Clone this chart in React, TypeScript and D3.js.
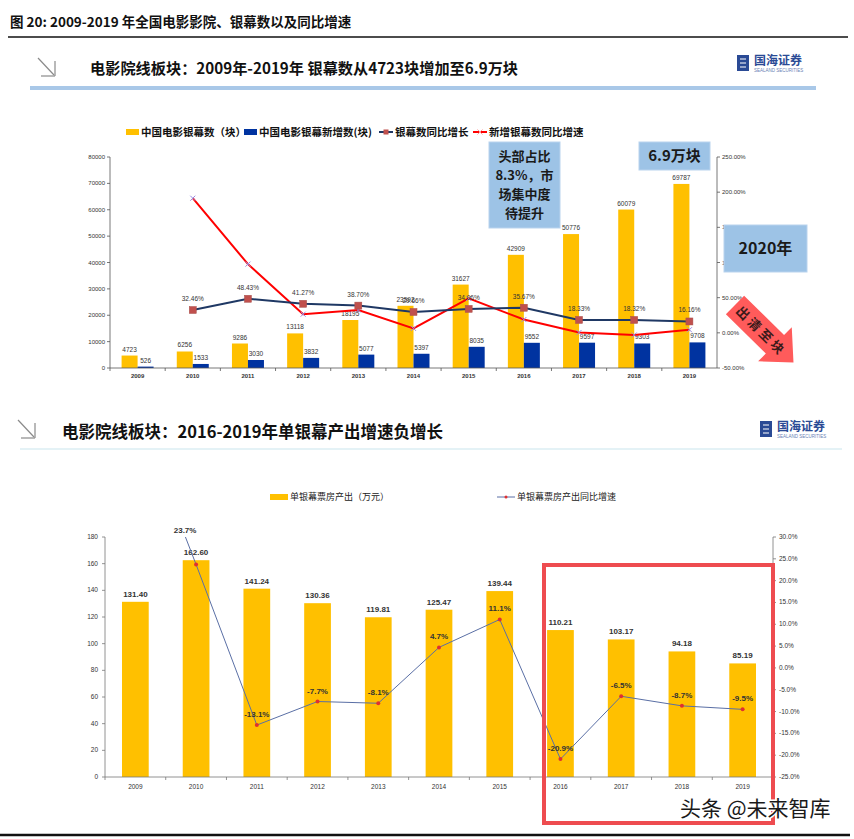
import React from 'react';
import * as d3 from 'd3';

// screens 2009-2019
const years = ['2009', '2010', '2011', '2012', '2013', '2014', '2015', '2016', '2017', '2018', '2019'];
const screens = [4723, 6256, 9286, 13118, 18195, 23592, 31627, 42909, 50776, 60079, 69787];
const newScreens = [526, 1533, 3030, 3832, 5077, 5397, 8035, 9552, 9597, 9303, 9708];
const screenGrowth = [null, 32.46, 48.43, 41.27, 38.7, 29.66, 34.06, 35.67, 18.33, 18.32, 16.16];
const newScreenGrowth = [null, 191.4, 97.7, 26.5, 32.5, 6.3, 48.9, 18.9, 0.5, -3.1, 4.4];
const topLeftTicks = [0, 10000, 20000, 30000, 40000, 50000, 60000, 70000, 80000];
const topRightTicks = [-50, 0, 50, 100, 150, 200, 250];

// box office per screen (10k yuan)
const perScreen = [131.4, 162.6, 141.24, 130.36, 119.81, 125.47, 139.44, 110.21, 103.17, 94.18, 85.19];
const perScreenGrowth = [59.6, 23.7, -13.1, -7.7, -8.1, 4.7, 11.1, -20.9, -6.5, -8.7, -9.5];
const botLeftTicks = [0, 20, 40, 60, 80, 100, 120, 140, 160, 180];
const botRightTicks = [-25, -20, -15, -10, -5, 0, 5, 10, 15, 20, 25, 30];

const calloutLines = ['头部占比', '8.3%，市', '场集中度', '待提升'];

const YELLOW = '#FFC000';
const NAVY_BAR = '#0033A0';
const NAVY_LINE = '#1F3864';
const MARK = '#C0504D';
const RED = '#FF0000';
const CJK = '"Noto Sans CJK SC", "Liberation Sans", sans-serif';
const NUM = '"Liberation Sans", Arial, sans-serif';

function Logo({x, y}: {x: number; y: number}) {
  return (
    <g transform={`translate(${x},${y})`}>
      <rect x={0} y={0} width={12} height={16} fill="#2a4a95" />
      <path d="M3,4 H9 M3,8 H9 M3,12 H9" stroke="#fff" strokeWidth={1.2} />
      <text x={17} y={10} fontFamily={CJK} fontWeight={700} fontSize={12} fill="#2a4a95">国海证券</text>
      <text x={17} y={17} fontFamily={NUM} fontSize={4.5} fill="#6a7fb5">SEALAND SECURITIES</text>
    </g>
  );
}

function TitleMark({x, y}: {x: number; y: number}) {
  return (
    <g stroke="#8a8a8a" strokeWidth={1.2} fill="none">
      <line x1={x} y1={y} x2={x + 16} y2={y + 17} />
      <line x1={x + 17} y1={y + 3} x2={x + 17} y2={y + 18} />
      <line x1={x + 3} y1={y + 18} x2={x + 17} y2={y + 18} />
    </g>
  );
}

function TopChart() {
  const x = d3.scaleBand().domain(years).range([110, 717]);
  const yL = d3.scaleLinear().domain([0, 80000]).range([368, 157]);
  const yR = d3.scaleLinear().domain([-50, 250]).range([368, 157]);
  const bw = 16;
  const cx = (yr: string) => (x(yr) as number) + x.bandwidth() / 2;

  const growthPts = years.map((yr, i) => ({yr, v: screenGrowth[i]})).filter((d) => d.v !== null) as {yr: string; v: number}[];
  const newPts = years.map((yr, i) => ({yr, v: newScreenGrowth[i]})).filter((d) => d.v !== null) as {yr: string; v: number}[];
  const line = d3.line<{yr: string; v: number}>().x((d) => cx(d.yr)).y((d) => yR(d.v));

  return (
    <g>
      {/* legend */}
      <g fontFamily={CJK} fontWeight={700} fontSize={10.5} fill="#111">
        <rect x={126} y={129} width={13} height={6} fill={YELLOW} />
        <text x={141} y={136}>中国电影银幕数（块）</text>
        <rect x={244} y={129} width={13} height={6} fill={NAVY_BAR} />
        <text x={259} y={136}>中国电影银幕新增数(块)</text>
        <line x1={379} y1={132} x2={393} y2={132} stroke={NAVY_LINE} strokeWidth={2} />
        <rect x={383.5} y={129.5} width={5} height={5} fill={MARK} />
        <text x={395} y={136}>银幕数同比增长</text>
        <line x1={473} y1={132} x2={487} y2={132} stroke={RED} strokeWidth={2} />
        <path d="M477.5,129.5 L482.5,134.5 M482.5,129.5 L477.5,134.5" stroke="#ff9a9a" strokeWidth={1} />
        <text x={489} y={136}>新增银幕数同比增速</text>
      </g>

      {/* bars */}
      {years.map((yr, i) => (
        <g key={yr}>
          <rect x={cx(yr) - bw} y={yL(screens[i])} width={bw} height={368 - yL(screens[i])} fill={YELLOW} />
          <rect x={cx(yr)} y={yL(newScreens[i])} width={bw} height={368 - yL(newScreens[i])} fill={NAVY_BAR} />
        </g>
      ))}

      {/* axes */}
      <g fontFamily={NUM} fontSize={6} fill="#333">
        <line x1={110} y1={157} x2={110} y2={368} stroke="#555" strokeWidth={0.8} />
        {topLeftTicks.map((t) => (
          <g key={t}>
            <line x1={107} x2={110} y1={yL(t)} y2={yL(t)} stroke="#555" strokeWidth={0.8} />
            <text x={105} y={yL(t) + 2} textAnchor="end">{t}</text>
          </g>
        ))}
        <line x1={717} y1={157} x2={717} y2={368} stroke="#555" strokeWidth={0.8} />
        {topRightTicks.map((t) => (
          <g key={t}>
            <line x1={717} x2={720} y1={yR(t)} y2={yR(t)} stroke="#555" strokeWidth={0.8} />
            <text x={722} y={yR(t) + 2}>{`${t.toFixed(2)}%`}</text>
          </g>
        ))}
        <line x1={110} y1={368} x2={717} y2={368} stroke="#555" strokeWidth={0.8} />
        {years.map((yr) => (
          <g key={yr}>
            <line x1={x(yr) as number} x2={x(yr) as number} y1={368} y2={371} stroke="#555" strokeWidth={0.8} />
            <text x={cx(yr)} y={378} textAnchor="middle" fontWeight={700}>{yr}</text>
          </g>
        ))}
      </g>

      {/* bar labels */}
      <g fontFamily={NUM} fontSize={6.5} fill="#333" textAnchor="middle">
        {years.map((yr, i) => (
          <g key={yr}>
            <text x={cx(yr) - bw / 2} y={yL(screens[i]) - 4}>{screens[i]}</text>
            <text x={cx(yr) + bw / 2} y={yL(newScreens[i]) - 4}>{newScreens[i]}</text>
          </g>
        ))}
      </g>

      {/* growth lines */}
      <path d={line(newPts) as string} fill="none" stroke={RED} strokeWidth={2} />
      {newPts.map((d) => (
        <path key={d.yr} d={`M${cx(d.yr) - 2.5},${yR(d.v) - 2.5} l5,5 m0,-5 l-5,5`} stroke="#9a8ce0" strokeWidth={1} />
      ))}
      <path d={line(growthPts) as string} fill="none" stroke={NAVY_LINE} strokeWidth={2} />
      {growthPts.map((d) => (
        <rect key={d.yr} x={cx(d.yr) - 3.5} y={yR(d.v) - 3.5} width={7} height={7} fill={MARK} stroke="#a8504c" strokeWidth={0.5} />
      ))}
      <g fontFamily={NUM} fontSize={6.5} fill="#333" textAnchor="middle">
        {growthPts.map((d) => (
          <text key={d.yr} x={cx(d.yr)} y={yR(d.v) - 9}>{`${d.v.toFixed(2)}%`}</text>
        ))}
      </g>

      {/* callouts */}
      <g fontFamily={CJK} fontWeight={700} fill="#1a1a1a" textAnchor="middle">
        <rect x={489} y={142} width={71} height={86} fill="#9DC3E6" stroke="#b9d3ee" />
        {calloutLines.map((s, i) => (
          <text key={s} x={524.5} y={161 + i * 19} fontSize={13}>{s}</text>
        ))}
        <rect x={639} y={142} width={71} height={28} fill="#9DC3E6" stroke="#b9d3ee" />
        <text x={674.5} y={161} fontSize={15}>6.9万块</text>
        <rect x={724} y={225} width={83} height={47} fill="#9DC3E6" stroke="#b9d3ee" />
        <text x={765.5} y={254} fontSize={16}>2020年</text>
      </g>

      {/* arrow */}
      <g transform="translate(735,305) rotate(44.5)">
        <polygon points="0,-13 56,-13 56,-24 82,0 56,24 56,13 0,13" fill="#FF5B5B" />
        <text x={5} y={5} fontFamily={CJK} fontWeight={700} fontSize={13} fill="#3a1a1a" letterSpacing={3}>出清至块</text>
      </g>
    </g>
  );
}

function BottomChart() {
  const x = d3.scaleBand().domain(years).range([105, 773]);
  const yL = d3.scaleLinear().domain([0, 180]).range([777, 537]);
  const yR = d3.scaleLinear().domain([-25, 30]).range([777, 537]);
  const bw = x.bandwidth() * 0.44;
  const cx = (yr: string) => (x(yr) as number) + x.bandwidth() / 2;
  const pts = years.map((yr, i) => ({yr, v: perScreenGrowth[i]}));
  const line = d3.line<{yr: string; v: number}>().x((d) => cx(d.yr)).y((d) => yR(d.v));

  return (
    <g>
      {/* legend */}
      <rect x={270} y={494} width={18} height={6} fill={YELLOW} />
      <text x={290} y={500} fontFamily={CJK} fontSize={9} fill="#222">单银幕票房产出（万元）</text>
      <line x1={497} y1={497} x2={515} y2={497} stroke="#5a6fa5" strokeWidth={1} />
      <circle cx={506} cy={497} r={1.5} fill="#e03030" />
      <text x={517} y={500} fontFamily={CJK} fontSize={9} fill="#222">单银幕票房产出同比增速</text>

      {years.map((yr, i) => (
        <rect key={yr} x={cx(yr) - bw / 2} y={yL(perScreen[i])} width={bw} height={777 - yL(perScreen[i])} fill={YELLOW} />
      ))}

      <g fontFamily={NUM} fontSize={6.5} fill="#333">
        <line x1={105} y1={537} x2={105} y2={777} stroke="#777" strokeWidth={0.8} />
        {botLeftTicks.map((t) => (
          <g key={t}>
            <line x1={102} x2={105} y1={yL(t)} y2={yL(t)} stroke="#777" strokeWidth={0.8} />
            <text x={98} y={yL(t) + 2} textAnchor="end">{t}</text>
          </g>
        ))}
        <line x1={773} y1={537} x2={773} y2={777} stroke="#777" strokeWidth={0.8} />
        {botRightTicks.map((t) => (
          <g key={t}>
            <line x1={773} x2={776} y1={yR(t)} y2={yR(t)} stroke="#777" strokeWidth={0.8} />
            <text x={779} y={yR(t) + 2}>{`${t.toFixed(1)}%`}</text>
          </g>
        ))}
        <line x1={105} y1={777} x2={773} y2={777} stroke="#777" strokeWidth={0.8} />
        {years.map((yr) => (
          <g key={yr}>
            <line x1={x(yr) as number} x2={x(yr) as number} y1={777} y2={780} stroke="#777" strokeWidth={0.8} />
            <text x={cx(yr)} y={789} textAnchor="middle">{yr}</text>
          </g>
        ))}
      </g>

      <g fontFamily={NUM} fontSize={8} fontWeight={700} fill="#333" textAnchor="middle">
        {years.map((yr, i) => (
          <text key={yr} x={cx(yr)} y={yL(perScreen[i]) - 5}>{perScreen[i].toFixed(2)}</text>
        ))}
      </g>

      <clipPath id="botPlot">
        <rect x={105} y={537} width={668} height={240} />
      </clipPath>
      <path d={line(pts) as string} fill="none" stroke="#5a6fa5" strokeWidth={1} clipPath="url(#botPlot)" />
      {pts.slice(1).map((d) => (
        <circle key={d.yr} cx={cx(d.yr)} cy={yR(d.v)} r={2} fill="#e03030" />
      ))}
      <g fontFamily={NUM} fontSize={8} fontWeight={700} fill="#333" textAnchor="middle">
        {pts.slice(1).map((d, i) => (
          <text key={d.yr} x={cx(d.yr) - (i === 0 ? 11 : 0)} y={yR(d.v) - (i === 0 ? 31 : 8)}>{`${d.v.toFixed(1)}%`}</text>
        ))}
      </g>

      <rect x={544} y={565} width={229} height={258} fill="none" stroke="#EE4C50" strokeWidth={4} />
    </g>
  );
}

export default function App() {
  return (
    <svg width={854} height={839} style={{position: 'absolute', left: 0, top: 0, background: '#fff'}}>
      <rect width={854} height={839} fill="#fff" />
      <text x={10} y={27} fontFamily={CJK} fontWeight={700} fontSize={13.5} fill="#111">图 20:  2009-2019 年全国电影影院、银幕数以及同比增速</text>
      <line x1={8} y1={37} x2={848} y2={37} stroke="#111" strokeWidth={1.5} />

      <TitleMark x={38} y={58} />
      <text x={90} y={74} fontFamily={CJK} fontWeight={700} fontSize={15.2} fill="#111">电影院线板块：2009年-2019年 银幕数从4723块增加至6.9万块</text>
      <Logo x={737} y={55} />
      <line x1={30} y1={88} x2={816} y2={88} stroke="#A9C8E8" strokeWidth={4} />

      <TopChart />

      <TitleMark x={18} y={420} />
      <text x={62} y={438} fontFamily={CJK} fontWeight={700} fontSize={16.5} fill="#111">电影院线板块：2016-2019年单银幕产出增速负增长</text>
      <Logo x={760} y={421} />
      <line x1={20} y1={449} x2={842} y2={449} stroke="#E4F2F6" strokeWidth={2} />

      <BottomChart />

      <text x={680} y={816} fontFamily={CJK} fontSize={21} fill="#1a1a1a" stroke="#fff" strokeWidth={3} paintOrder="stroke">头条 @未来智库</text>
      <line x1={0} y1={835} x2={850} y2={835} stroke="#111" strokeWidth={2.5} />
    </svg>
  );
}
